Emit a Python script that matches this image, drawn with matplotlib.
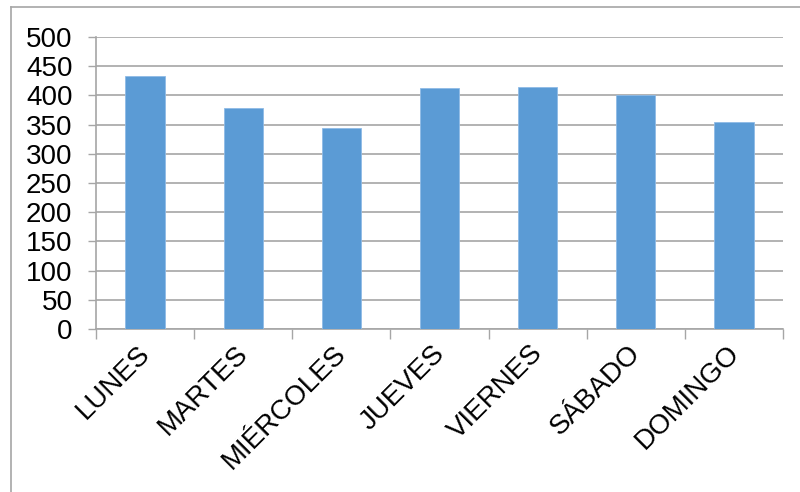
import matplotlib
matplotlib.use("Agg")
import matplotlib.pyplot as plt
from matplotlib.lines import Line2D
from matplotlib.transforms import ScaledTranslation
import numpy as np

plt.rcParams['font.family'] = ['Liberation Sans', 'DejaVu Sans']

dias = ["LUNES", "MARTES", "MIÉRCOLES", "JUEVES", "VIERNES", "SÁBADO", "DOMINGO"]
valores = [433, 378, 344, 412, 415, 400, 355]
y_ticks = [0, 50, 100, 150, 200, 250, 300, 350, 400, 450, 500]

W, H = 800, 492
fig = plt.figure(figsize=(W / 100, H / 100), dpi=100)
ax = fig.add_axes([96 / W, 1 - 329 / H, (783 - 96) / W, (329 - 37) / H])

grid_c = "#a6a6a6"
x = np.arange(len(dias))
ax.bar(x, valores, width=0.4, color="#5b9bd5", edgecolor="#8fbbe6", linewidth=0.6, zorder=3)

ax.set_xlim(-0.5, len(dias) - 0.5)
ax.set_ylim(0, 500)
ax.set_yticks(y_ticks)
ax.set_yticklabels([str(v) for v in y_ticks], fontsize=20)
ax.yaxis.grid(True, color=grid_c, linewidth=1.2, zorder=0)
ax.tick_params(axis='y', length=6, width=1, color=grid_c, pad=11)

# category labels at centres, tick marks at boundaries
ax.set_xticks(x)
ax.set_xticklabels(dias, fontsize=20, rotation=45, ha='right', va='top',
                   rotation_mode='anchor')
ax.tick_params(axis='x', which='major', length=0, pad=8)
shift = ScaledTranslation(-8 / 100, 0, fig.dpi_scale_trans)
for lbl in ax.get_xticklabels():
    lbl.set_transform(lbl.get_transform() + shift)
ax.set_xticks(np.arange(-0.5, len(dias)), minor=True)
ax.tick_params(axis='x', which='minor', length=7, width=1, color=grid_c)

for s in ['top', 'right']:
    ax.spines[s].set_visible(False)
for s in ['left', 'bottom']:
    ax.spines[s].set_color(grid_c)
    ax.spines[s].set_linewidth(1.2)

# chart area frame
fig.add_artist(Line2D([11 / W, 11 / W], [0, 1 - 7 / H], color=grid_c, linewidth=1.2))
fig.add_artist(Line2D([11 / W, 1], [1 - 7 / H, 1 - 7 / H], color=grid_c, linewidth=1.2))

fig.savefig("out.png", dpi=100)
